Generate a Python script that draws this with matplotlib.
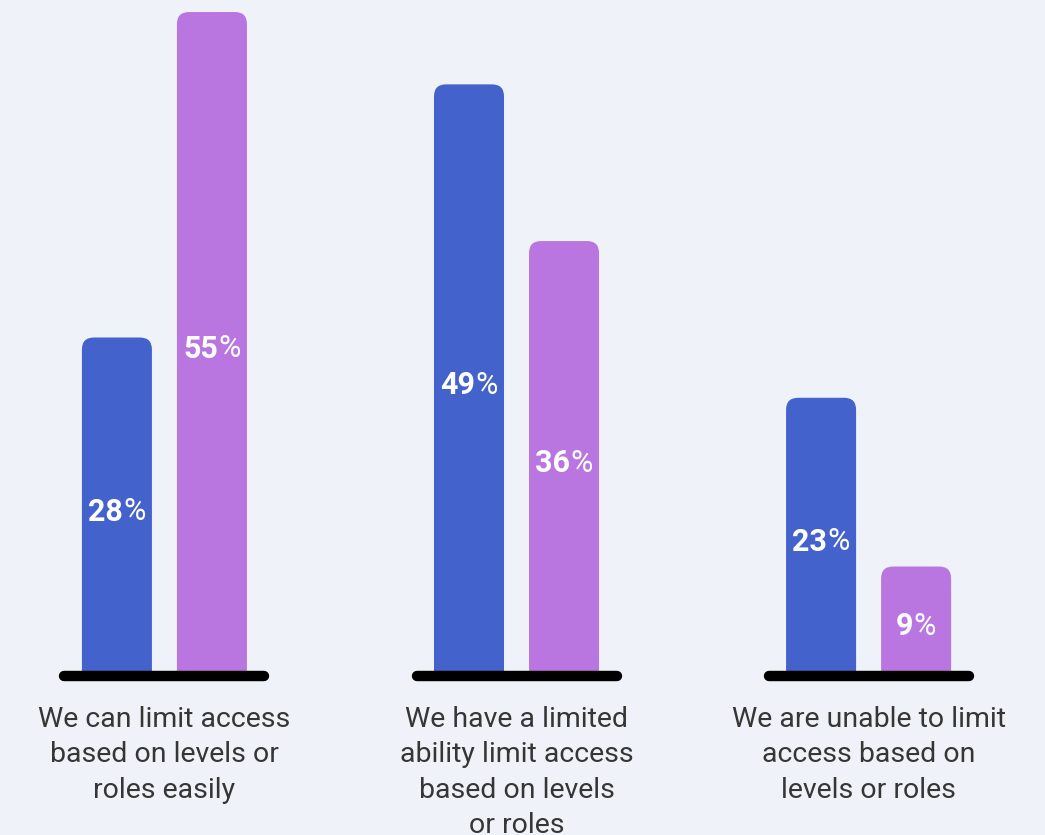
import matplotlib
matplotlib.use("Agg")
import matplotlib.pyplot as plt
import numpy as np
from matplotlib.patches import FancyBboxPatch, Rectangle
import matplotlib.transforms as mtransforms

categories = [
    "We can limit access\nbased on levels or\nroles easily",
    "We have a limited\nability limit access\nbased on levels\nor roles",
    "We are unable to limit\naccess based on\nlevels or roles",
]
series_a = [28, 49, 23]
series_b = [55, 36, 9]

bg = "#EFF3F9"
blue = "#4462CB"
purple = "#B975E0"

fig = plt.figure(figsize=(10.45, 8.35), dpi=100, facecolor=bg)
ax = fig.add_axes([0, 160 / 835, 1, 675 / 835])
ax.set_facecolor(bg)
ax.set_xlim(-0.467, 2.501)
ax.set_ylim(0, 56)
ax.axis("off")

x = np.arange(len(categories))
off = 47.5 / 352
w = 70 / 352

# px per data unit, for rounding the top corners
px_x = 352.0
px_y = 675 / 56
rad = 12 / px_x
aspect = px_x / px_y


def rounded_bars(xs, vals, color):
    bars = ax.bar(xs, vals, width=w, color=color)
    for b in bars:
        b.set_visible(False)
        x0, h = b.get_x(), b.get_height()
        p = FancyBboxPatch((x0, -2), w, h + 2,
                           boxstyle=f"round,pad=0,rounding_size={rad}",
                           mutation_aspect=aspect,
                           fc=color, ec="none", zorder=2)
        ax.add_patch(p)
        clip = Rectangle((x0 - 0.1, 0), w + 0.2, 100, transform=ax.transData)
        p.set_clip_path(clip)
    return bars


rounded_bars(x - off, series_a, blue)
rounded_bars(x + off, series_b, purple)

# baselines under each group
for xi in x:
    ax.plot([xi - 0.284, xi + 0.284], [-0.1, -0.1], color="black", lw=7.5,
            solid_capstyle="round", zorder=3, clip_on=False)

# value labels: bold digits, lighter %
fig.canvas.draw()
r = fig.canvas.get_renderer()
for xs, vals in [(x - off, series_a), (x + off, series_b)]:
    for xi, v in zip(xs, vals):
        yc = v / 2 - 0.45
        t1 = ax.text(xi, yc, str(v), color="white", fontsize=22,
                     fontweight="bold", family="Roboto", ha="left", va="center", zorder=4)
        t2 = ax.text(xi, yc, "%", color="white", fontsize=22,
                     fontweight="normal", family="Roboto", ha="left", va="center", zorder=4)
        w1 = t1.get_window_extent(r).width
        w2 = t2.get_window_extent(r).width
        tot = w1 + w2
        t1.set_transform(ax.transData + mtransforms.ScaledTranslation(-tot / 2 / 100, 0, fig.dpi_scale_trans))
        t2.set_transform(ax.transData + mtransforms.ScaledTranslation((w1 - tot / 2) / 100, 0, fig.dpi_scale_trans))

trans = mtransforms.blended_transform_factory(ax.transData, ax.transAxes)
for xi, lab in zip(x, categories):
    ax.text(xi, -0.046, lab, transform=trans, ha="center", va="top",
            fontsize=20.5, family="Roboto", color="#363636",
            linespacing=1.4)

fig.savefig("out.png", dpi=100, facecolor=bg)
